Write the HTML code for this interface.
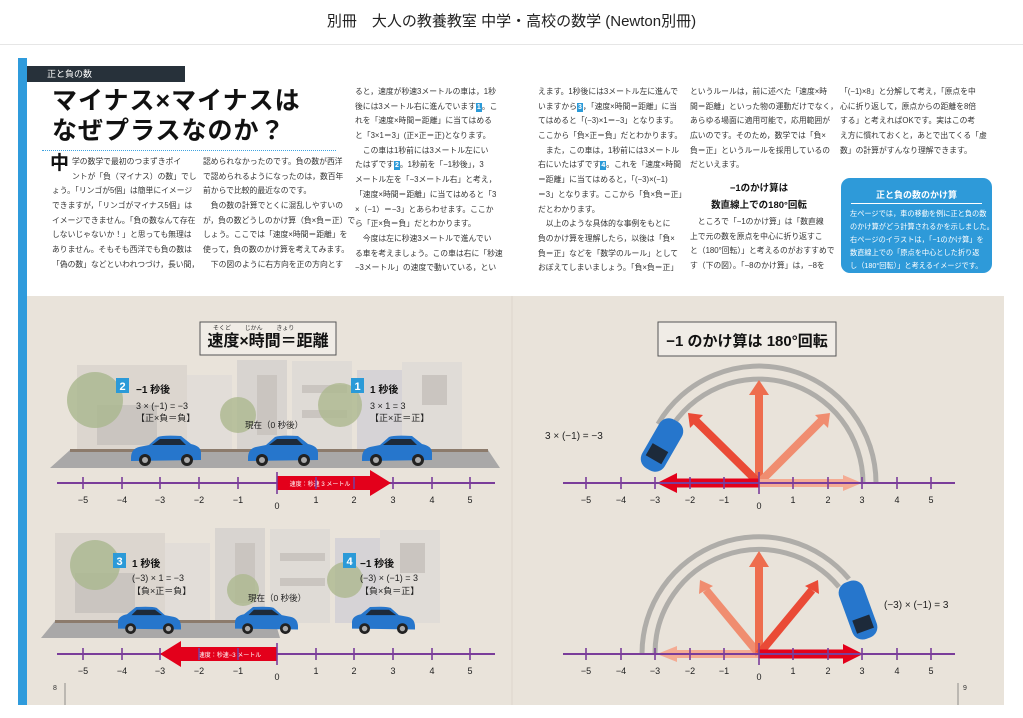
<!DOCTYPE html>
<html><head><meta charset="utf-8">
<style>
*{margin:0;padding:0;box-sizing:border-box}
body{width:1023px;height:718px;background:#fff;position:relative;overflow:hidden;font-family:"Liberation Sans","Noto Sans CJK JP",sans-serif;color:#222}
.hdr{position:absolute;top:10px;left:0;width:1023px;text-align:center;font-size:15px;color:#222}
.hl{position:absolute;top:44px;left:0;width:1023px;height:1px;background:#e6e6e6}
.col{position:absolute;font-size:7.8px;line-height:14.7px;white-space:nowrap;color:#333}
.col div{height:14.7px}
.n{display:inline-block;background:#2b9ad8;color:#fff;font-size:7px;line-height:9px;padding:0 1px;font-weight:bold}
</style></head><body>
<div class="hdr">別冊　大人の教養教室 中学・高校の数学 (Newton別冊)</div>
<div class="hl"></div>
<div style="position:absolute;left:18px;top:58px;width:9px;height:647px;background:#2f9bdc"></div>
<div style="position:absolute;left:27px;top:66px;width:158px;height:16px;background:#27313a;color:#fff;font-size:9px;line-height:17px;padding-left:20px">正と負の数</div>
<div style="position:absolute;left:52px;top:86px;font-size:25px;font-weight:bold;line-height:30px;color:#111;letter-spacing:1px">マイナス×マイナスは<br>なぜプラスなのか？</div>
<div style="position:absolute;left:42px;top:150px;width:294px;border-top:1px dotted #3fa3e0"></div>

<div class="col" style="left:52px;top:155px">
<div><b style="font-size:19px;position:absolute;left:-2px;top:2px;color:#111">中</b><span style="margin-left:20px">学の数学で最初のつまずきポイ</span></div>
<div><span style="margin-left:20px">ントが「負（マイナス）の数」でし</span></div>
<div>ょう。「リンゴが5個」は簡単にイメージ</div>
<div>できますが，「リンゴがマイナス5個」は</div>
<div>イメージできません。「負の数なんて存在</div>
<div>しないじゃないか！」と思っても無理は</div>
<div>ありません。そもそも西洋でも負の数は</div>
<div>「偽の数」などといわれつづけ，長い間，</div>
</div>
<div class="col" style="left:203px;top:155px">
<div>認められなかったのです。負の数が西洋</div>
<div>で認められるようになったのは，数百年</div>
<div>前からで比較的最近なのです。</div>
<div>　負の数の計算でとくに混乱しやすいの</div>
<div>が，負の数どうしのかけ算（負×負＝正）で</div>
<div>しょう。ここでは「速度×時間＝距離」を</div>
<div>使って，負の数のかけ算を考えてみます。</div>
<div>　下の図のように右方向を正の方向とす</div>
</div>
<div class="col" style="left:355px;top:85px">
<div>ると，速度が秒速3メートルの車は，1秒</div>
<div>後には3メートル右に進んでいます<span class="n">1</span>。こ</div>
<div>れを「速度×時間＝距離」に当てはめる</div>
<div>と「3×1＝3」(正×正＝正)となります。</div>
<div>　この車は1秒前には3メートル左にい</div>
<div>たはずです<span class="n">2</span>。1秒前を「−1秒後」，3</div>
<div>メートル左を「−3メートル右」と考え，</div>
<div>「速度×時間＝距離」に当てはめると「3</div>
<div>×（−1）＝−3」とあらわせます。ここか</div>
<div>ら「正×負＝負」だとわかります。</div>
<div>　今度は左に秒速3メートルで進んでい</div>
<div>る車を考えましょう。この車は右に「秒速</div>
<div>−3メートル」の速度で動いている，とい</div>
</div>
<div class="col" style="left:538px;top:85px">
<div>えます。1秒後には3メートル左に進んで</div>
<div>いますから<span class="n">3</span>，「速度×時間＝距離」に当</div>
<div>てはめると「(−3)×1＝−3」となります。</div>
<div>ここから「負×正＝負」だとわかります。</div>
<div>　また，この車は，1秒前には3メートル</div>
<div>右にいたはずです<span class="n">4</span>。これを「速度×時間</div>
<div>＝距離」に当てはめると，「(−3)×(−1)</div>
<div>＝3」となります。ここから「負×負＝正」</div>
<div>だとわかります。</div>
<div>　以上のような具体的な事例をもとに</div>
<div>負のかけ算を理解したら，以後は「負×</div>
<div>負＝正」などを「数学のルール」として</div>
<div>おぼえてしまいましょう。「負×負＝正」</div>
</div>
<div class="col" style="left:690px;top:85px">
<div>というルールは，前に述べた「速度×時</div>
<div>間＝距離」といった物の運動だけでなく，</div>
<div>あらゆる場面に適用可能で，応用範囲が</div>
<div>広いのです。そのため，数学では「負×</div>
<div>負＝正」というルールを採用しているの</div>
<div>だといえます。</div>
</div>
<div style="position:absolute;left:690px;top:180px;width:138px;text-align:center;font-size:9.5px;font-weight:bold;line-height:17px;color:#111">−1のかけ算は<br>数直線上での180°回転</div>
<div class="col" style="left:690px;top:215px">
<div>　ところで「−1のかけ算」は「数直線</div>
<div>上で元の数を原点を中心に折り返すこ</div>
<div>と（180°回転）」と考えるのがおすすめで</div>
<div>す（下の図）。「−8のかけ算」は，−8を</div>
</div>
<div class="col" style="left:840px;top:85px">
<div>「(−1)×8」と分解して考え，「原点を中</div>
<div>心に折り返して，原点からの距離を8倍</div>
<div>する」と考えればOKです。実はこの考</div>
<div>え方に慣れておくと，あとで出てくる「虚</div>
<div>数」の計算がすんなり理解できます。</div>
</div>
<div style="position:absolute;left:841px;top:178px;width:151px;height:95px;background:#2e9ad9;border-radius:9px;color:#fff">
<div style="text-align:center;font-size:9px;font-weight:bold;margin-top:10px;padding-bottom:2px;border-bottom:1px solid #fff;margin-left:10px;margin-right:10px">正と負の数のかけ算</div>
<div style="font-size:7.2px;line-height:13px;padding:3px 0 0 9px;white-space:nowrap">左ページでは，車の移動を例に正と負の数<br>のかけ算がどう計算されるかを示しました。<br>右ページのイラストは，「−1のかけ算」を<br>数直線上での「原点を中心とした折り返<br>し（180°回転）」と考えるイメージです。</div>
</div>

<svg style="position:absolute;left:0;top:0" width="1023" height="718" viewBox="0 0 1023 718">
<defs>
<g id="car">
<path d="M0 22 Q0 13 8 11 L18 9 L27 1 Q32 -1 50 0 L60 8 Q70 10 70 17 L70 24 L0 25 Z" fill="#2676cc"/>
<path d="M21 9 L29 3 L49 3 L55 9 Z" fill="#1d2a3a"/>
<circle cx="14" cy="24" r="6" fill="#222"/><circle cx="14" cy="24" r="3" fill="#aaa"/>
<circle cx="56" cy="24" r="6" fill="#222"/><circle cx="56" cy="24" r="3" fill="#aaa"/>
</g>
<g id="bld">
<rect x="0" y="0" width="110" height="90" fill="#dcd6cf"/>
<rect x="110" y="10" width="45" height="80" fill="#e2ddd8"/>
<rect x="160" y="-5" width="50" height="95" fill="#d8d4d0"/>
<rect x="215" y="-4" width="60" height="94" fill="#dfdbd6"/>
<rect x="280" y="5" width="45" height="85" fill="#d6d3d6"/>
<rect x="325" y="-3" width="60" height="93" fill="#e0dcd7"/>
<g fill="#cac5c0"><rect x="180" y="10" width="20" height="60"/><rect x="225" y="20" width="45" height="8"/><rect x="225" y="45" width="45" height="8"/><rect x="345" y="10" width="25" height="30"/><rect x="20" y="40" width="60" height="40"/></g>
</g>
</defs>
<rect x="27" y="296" width="977" height="409" fill="#e9e3da"/>
<line x1="512" y1="296" x2="512" y2="705" stroke="#ddd6cc"/>

<!-- LEFT TOP -->
<rect x="200" y="322" width="136" height="33" fill="#f0ece6" stroke="#555"/>
<text x="268" y="346" font-size="16" font-weight="bold" text-anchor="middle" fill="#111">速度×時間＝距離</text>
<text x="213" y="330" font-size="6" fill="#333">そくど　　 じかん　　 きょり</text>
<use href="#bld" x="77" y="365"/>
<circle cx="95" cy="400" r="28" fill="#a9b68d" opacity=".8"/>
<circle cx="238" cy="415" r="18" fill="#adb88f" opacity=".8"/>
<circle cx="340" cy="405" r="22" fill="#adb88f" opacity=".8"/>
<path d="M50 468 L70 450 L488 450 L500 468 Z" fill="#a9a8a8"/>
<rect x="70" y="449" width="418" height="3" fill="#8c7b6c"/>
<use href="#car" x="131" y="436"/><use href="#car" x="248" y="436"/><use href="#car" x="362" y="436"/>
<rect x="116" y="378" width="13" height="15" fill="#2b9ad8"/><text x="122.5" y="390" font-size="11" font-weight="bold" fill="#fff" text-anchor="middle">2</text>
<text x="136" y="393" font-size="10" font-weight="bold" fill="#111">−1 秒後</text>
<text x="136" y="409" font-size="9" fill="#222">3 × (−1) = −3</text>
<text x="136" y="421" font-size="9" fill="#222">【正×負＝負】</text>
<rect x="351" y="378" width="13" height="15" fill="#2b9ad8"/><text x="357.5" y="390" font-size="11" font-weight="bold" fill="#fff" text-anchor="middle">1</text>
<text x="370" y="393" font-size="10" font-weight="bold" fill="#111">1 秒後</text>
<text x="370" y="409" font-size="9" fill="#222">3 × 1 = 3</text>
<text x="370" y="421" font-size="9" fill="#222">【正×正＝正】</text>
<text x="245" y="428" font-size="8.5" fill="#222">現在（0 秒後）</text>
<line x1="57" y1="483" x2="495" y2="483" stroke="#7a3d9a" stroke-width="2"/>
<path d="M277 476 L370 476 L370 470 L391 483 L370 496 L370 490 L277 490 Z" fill="#e3001b"/>
<text x="320" y="486" font-size="6" fill="#fff" text-anchor="middle">速度：秒速 3 メートル</text>
<g stroke="#7a3d9a" stroke-width="1.6">
<line x1="83" y1="477" x2="83" y2="489"/><line x1="122" y1="477" x2="122" y2="489"/><line x1="160" y1="477" x2="160" y2="489"/><line x1="199" y1="477" x2="199" y2="489"/><line x1="238" y1="477" x2="238" y2="489"/><line x1="277" y1="472" x2="277" y2="494"/><line x1="316" y1="477" x2="316" y2="489"/><line x1="354" y1="477" x2="354" y2="489"/><line x1="393" y1="477" x2="393" y2="489"/><line x1="432" y1="477" x2="432" y2="489"/><line x1="470" y1="477" x2="470" y2="489"/>
</g>
<g font-size="9" fill="#222" text-anchor="middle">
<text x="83" y="503">−5</text><text x="122" y="503">−4</text><text x="160" y="503">−3</text><text x="199" y="503">−2</text><text x="238" y="503">−1</text><text x="277" y="509">0</text><text x="316" y="503">1</text><text x="354" y="503">2</text><text x="393" y="503">3</text><text x="432" y="503">4</text><text x="470" y="503">5</text>
</g>

<!-- LEFT BOTTOM -->
<use href="#bld" x="55" y="533"/>
<circle cx="95" cy="565" r="25" fill="#a9b68d" opacity=".8"/>
<circle cx="243" cy="590" r="16" fill="#adb88f" opacity=".8"/>
<circle cx="345" cy="580" r="18" fill="#adb88f" opacity=".8"/>
<path d="M41 638 L55 621 L275 621 L280 638 Z" fill="#a9a8a8"/>
<rect x="55" y="620" width="220" height="3" fill="#8c7b6c"/>
<g transform="translate(118,607) scale(-0.9,0.9) translate(-70,0)"><use href="#car"/></g>
<g transform="translate(235,607) scale(-0.9,0.9) translate(-70,0)"><use href="#car"/></g>
<g transform="translate(352,607) scale(-0.9,0.9) translate(-70,0)"><use href="#car"/></g>
<rect x="113" y="553" width="13" height="15" fill="#2b9ad8"/><text x="119.5" y="565" font-size="11" font-weight="bold" fill="#fff" text-anchor="middle">3</text>
<text x="132" y="567" font-size="10" font-weight="bold" fill="#111">1 秒後</text>
<text x="132" y="581" font-size="9" fill="#222">(−3) × 1 = −3</text>
<text x="132" y="594" font-size="9" fill="#222">【負×正＝負】</text>
<rect x="343" y="553" width="13" height="15" fill="#2b9ad8"/><text x="349.5" y="565" font-size="11" font-weight="bold" fill="#fff" text-anchor="middle">4</text>
<text x="360" y="567" font-size="10" font-weight="bold" fill="#111">−1 秒後</text>
<text x="360" y="581" font-size="9" fill="#222">(−3) × (−1) = 3</text>
<text x="360" y="594" font-size="9" fill="#222">【負×負＝正】</text>
<text x="248" y="601" font-size="8.5" fill="#222">現在（0 秒後）</text>
<line x1="57" y1="654" x2="495" y2="654" stroke="#7a3d9a" stroke-width="2"/>
<path d="M277 647 L181 647 L181 641 L160 654 L181 667 L181 661 L277 661 Z" fill="#e3001b"/>
<text x="230" y="657" font-size="6" fill="#fff" text-anchor="middle">速度：秒速−3 メートル</text>
<g stroke="#7a3d9a" stroke-width="1.6">
<line x1="83" y1="648" x2="83" y2="660"/><line x1="122" y1="648" x2="122" y2="660"/><line x1="160" y1="648" x2="160" y2="660"/><line x1="199" y1="648" x2="199" y2="660"/><line x1="238" y1="648" x2="238" y2="660"/><line x1="277" y1="643" x2="277" y2="665"/><line x1="316" y1="648" x2="316" y2="660"/><line x1="354" y1="648" x2="354" y2="660"/><line x1="393" y1="648" x2="393" y2="660"/><line x1="432" y1="648" x2="432" y2="660"/><line x1="470" y1="648" x2="470" y2="660"/>
</g>
<g font-size="9" fill="#222" text-anchor="middle">
<text x="83" y="674">−5</text><text x="122" y="674">−4</text><text x="160" y="674">−3</text><text x="199" y="674">−2</text><text x="238" y="674">−1</text><text x="277" y="680">0</text><text x="316" y="674">1</text><text x="354" y="674">2</text><text x="393" y="674">3</text><text x="432" y="674">4</text><text x="470" y="674">5</text>
</g>
<text x="53" y="690" font-size="7" fill="#333">8</text>

<!-- RIGHT TOP -->
<rect x="658" y="322" width="178" height="34" fill="#f0ece6" stroke="#555"/>
<text x="747" y="346" font-size="15" font-weight="bold" text-anchor="middle" fill="#111">−1 のかけ算は 180°回転</text>
<g fill="none" stroke="#8a8a8a" stroke-width="5" opacity=".6">
<path d="M876 483 A117 117 0 0 0 658 424"/>
<path d="M863 483 A104 104 0 0 0 669 431"/>
</g>
<path d="M759 483 L759 392" stroke="#ee6d4e" stroke-width="8"/><path d="M749 395 L759 380 L769 395 Z" fill="#ee6d4e"/>
<path d="M759 483 L695 420" stroke="#ea4a36" stroke-width="8"/><path d="M690 428 L688 413 L703 415 Z" fill="#ea4a36"/>
<path d="M759 483 L822 420" stroke="#f08d70" stroke-width="8"/><path d="M815 415 L830 413 L828 428 Z" fill="#f08d70"/>
<path d="M759 483 L845 483" stroke="#f4ab93" stroke-width="8"/><path d="M843 475 L862 483 L843 491 Z" fill="#f4ab93"/>
<path d="M759 483 L675 483" stroke="#e3001b" stroke-width="9"/><path d="M677 473 L657 483 L677 493 Z" fill="#e3001b"/>
<g transform="translate(662 445) rotate(30)"><rect x="-13" y="-28" width="26" height="56" rx="11" fill="#2676cc"/><rect x="-9" y="3" width="18" height="14" fill="#1d2a3a"/></g>
<text x="545" y="439" font-size="10" fill="#222">3 × (−1) = −3</text>
<line x1="563" y1="483" x2="955" y2="483" stroke="#7a3d9a" stroke-width="2"/>
<g stroke="#7a3d9a" stroke-width="1.6">
<line x1="586" y1="477" x2="586" y2="489"/><line x1="621" y1="477" x2="621" y2="489"/><line x1="655" y1="477" x2="655" y2="489"/><line x1="690" y1="477" x2="690" y2="489"/><line x1="724" y1="477" x2="724" y2="489"/><line x1="759" y1="472" x2="759" y2="494"/><line x1="793" y1="477" x2="793" y2="489"/><line x1="828" y1="477" x2="828" y2="489"/><line x1="862" y1="477" x2="862" y2="489"/><line x1="897" y1="477" x2="897" y2="489"/><line x1="931" y1="477" x2="931" y2="489"/>
</g>
<g font-size="9" fill="#222" text-anchor="middle">
<text x="586" y="503">−5</text><text x="621" y="503">−4</text><text x="655" y="503">−3</text><text x="690" y="503">−2</text><text x="724" y="503">−1</text><text x="759" y="509">0</text><text x="793" y="503">1</text><text x="828" y="503">2</text><text x="862" y="503">3</text><text x="897" y="503">4</text><text x="931" y="503">5</text>
</g>

<!-- RIGHT BOTTOM -->
<g fill="none" stroke="#8a8a8a" stroke-width="5" opacity=".6">
<path d="M642 654 A117 117 0 0 1 849 579"/>
<path d="M655 654 A104 104 0 0 1 839 587"/>
</g>
<path d="M759 654 L675 654" stroke="#f4ab93" stroke-width="8"/><path d="M677 646 L657 654 L677 662 Z" fill="#f4ab93"/>
<path d="M759 654 L706 590" stroke="#f08d70" stroke-width="8"/><path d="M699 594 L700 580 L713 586 Z" fill="#f08d70"/>
<path d="M759 654 L759 565" stroke="#ee6d4e" stroke-width="8"/><path d="M749 567 L759 551 L769 567 Z" fill="#ee6d4e"/>
<path d="M759 654 L812 590" stroke="#ea4a36" stroke-width="8"/><path d="M805 586 L818 580 L819 594 Z" fill="#ea4a36"/>
<path d="M759 654 L845 654" stroke="#e3001b" stroke-width="9"/><path d="M843 644 L863 654 L843 664 Z" fill="#e3001b"/>
<g transform="translate(858 610) rotate(-20)"><rect x="-13" y="-30" width="26" height="60" rx="11" fill="#2676cc"/><rect x="-9" y="8" width="18" height="14" fill="#1d2a3a"/></g>
<text x="884" y="608" font-size="10" fill="#222">(−3) × (−1) = 3</text>
<line x1="563" y1="654" x2="955" y2="654" stroke="#7a3d9a" stroke-width="2"/>
<g stroke="#7a3d9a" stroke-width="1.6">
<line x1="586" y1="648" x2="586" y2="660"/><line x1="621" y1="648" x2="621" y2="660"/><line x1="655" y1="648" x2="655" y2="660"/><line x1="690" y1="648" x2="690" y2="660"/><line x1="724" y1="648" x2="724" y2="660"/><line x1="759" y1="643" x2="759" y2="665"/><line x1="793" y1="648" x2="793" y2="660"/><line x1="828" y1="648" x2="828" y2="660"/><line x1="862" y1="648" x2="862" y2="660"/><line x1="897" y1="648" x2="897" y2="660"/><line x1="931" y1="648" x2="931" y2="660"/>
</g>
<g font-size="9" fill="#222" text-anchor="middle">
<text x="586" y="674">−5</text><text x="621" y="674">−4</text><text x="655" y="674">−3</text><text x="690" y="674">−2</text><text x="724" y="674">−1</text><text x="759" y="680">0</text><text x="793" y="674">1</text><text x="828" y="674">2</text><text x="862" y="674">3</text><text x="897" y="674">4</text><text x="931" y="674">5</text>
</g>
<text x="963" y="690" font-size="7" fill="#333">9</text>
<line x1="958" y1="683" x2="958" y2="705" stroke="#555" stroke-width=".6"/>
<line x1="65" y1="683" x2="65" y2="705" stroke="#555" stroke-width=".6"/>
</svg>
</body></html>
